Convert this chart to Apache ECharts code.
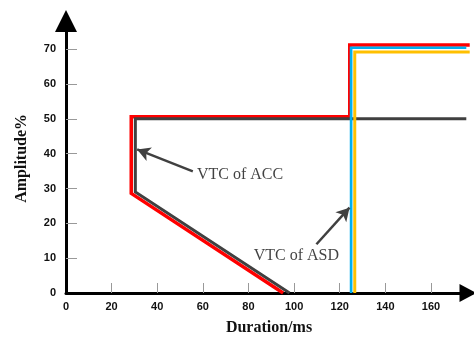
<!DOCTYPE html>
<html lang="en">
<head>
    <meta charset="UTF-8">
    <title>VTC</title>
    <script type="text/javascript" src="https://cdn.jsdelivr.net/npm/echarts@6/dist/echarts.min.js"></script>
    <style>
        html, body { margin: 0; padding: 0; background: #fff; }
    </style>
</head>
<body>
<div id="main" style="width: 474px; height: 341px"></div>

<script type="text/javascript">
    var myChart = echarts.init(document.getElementById('main'));

    // tick labels
    var xLabels = [0, 20, 40, 60, 80, 100, 120, 140, 160];
    var xTicks = [20, 40, 60, 80, 100, 120, 140, 160];
    var yLabels = [0, 10, 20, 30, 40, 50, 60, 70];
    var yTicks = [10, 20, 30, 40, 50, 60, 70];

    // curves [duration, amplitude]
    var accGray = [[98, 0], [30.4, 29], [30.4, 50], [175.5, 50]];
    var accRed = [[95.2, 0], [28.6, 28.6], [28.6, 50.6], [124.4, 50.6], [124.4, 71.2], [177, 71.2]];
    var asdBlue = [[125, 0], [125, 70.4], [175.5, 70.4]];
    var asdYellow = [[126.6, 0], [126.6, 69.2], [177, 69.2]];

    // annotations: label anchor and arrow [from, to]
    var accText = [57.4, 34, 'VTC of ACC'];
    var accArrow = [[55.6, 34.9], [31.2, 41.2]];
    var asdText = [82.3, 10.6, 'VTC of ASD'];
    var asdArrow = [[109.8, 14], [124.3, 24.5]];

    var labelFont = {color: '#111', fontWeight: 'bold', fontSize: 11, fontFamily: 'Liberation Sans'};
    var nameFont = {color: '#111', fontWeight: 'bold', fontSize: 16, fontFamily: 'Liberation Serif'};

    function lineSeries(data, color, width, z) {
        return {
            type: 'line',
            data: data,
            symbol: 'none',
            z: z,
            lineStyle: {color: color, width: width, join: 'miter'}
        };
    }

    option = {
        animation: false,
        grid: {left: 66, right: 2, top: 31.7, bottom: 45},
        xAxis: {
            type: 'value',
            min: 0,
            max: 178,
            interval: 20,
            name: 'Duration/ms',
            nameLocation: 'middle',
            nameGap: 27,
            nameTextStyle: nameFont,
            splitLine: {show: false},
            axisLine: {
                lineStyle: {color: '#000', width: 3},
                symbol: ['none', 'triangle'],
                symbolSize: [18, 17],
                symbolOffset: [0, -4]
            },
            axisTick: {inside: true, length: 10, customValues: xTicks, lineStyle: {color: '#999', width: 1}},
            axisLabel: Object.assign({margin: 8, customValues: xLabels}, labelFont)
        },
        yAxis: {
            type: 'value',
            min: 0,
            max: 75,
            interval: 10,
            name: 'Amplitude%',
            nameLocation: 'middle',
            nameGap: 36,
            nameTextStyle: Object.assign({padding: [0, 0, 0, 8]}, nameFont),
            splitLine: {show: false},
            axisLine: {
                lineStyle: {color: '#000', width: 3},
                symbol: ['none', 'triangle'],
                symbolSize: [22, 22],
                symbolOffset: [0, 10.7]
            },
            axisTick: {inside: true, length: 11, customValues: yTicks, lineStyle: {color: '#999', width: 1}},
            axisLabel: Object.assign({margin: 10, customValues: yLabels}, labelFont)
        },
        series: [
            lineSeries(accRed, '#FF0000', 3.5, 2),
            lineSeries(accGray, '#404040', 3, 3),
            lineSeries(asdBlue, '#00B0F0', 2.7, 4),
            lineSeries(asdYellow, '#FFC000', 3, 5),
            {
                type: 'scatter',
                symbolSize: 0,
                z: 6,
                data: [accText, asdText],
                label: {
                    show: true,
                    position: 'right',
                    distance: 0,
                    formatter: function (p) { return p.data[2]; },
                    color: '#111',
                    fontSize: 16,
                    fontFamily: 'Liberation Serif'
                },
                markLine: {
                    silent: true,
                    symbol: ['none', 'arrow'],
                    symbolSize: [11, 13],
                    label: {show: false},
                    lineStyle: {color: '#404040', width: 2.5, type: 'solid'},
                    data: [
                        [{coord: accArrow[0]}, {coord: accArrow[1]}],
                        [{coord: asdArrow[0]}, {coord: asdArrow[1]}]
                    ]
                }
            }
        ]
    };

    myChart.setOption(option);
</script>
</body>
</html>
